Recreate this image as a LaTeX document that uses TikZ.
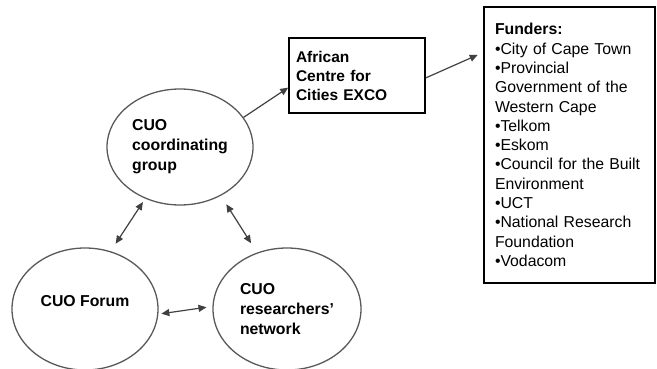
\documentclass[tikz,border=0pt]{standalone}
\usepackage{fontspec}
\setmainfont{Liberation Sans}
\usetikzlibrary{shapes.geometric,arrows.meta}

\tikzset{
  bubble/.style={ellipse,draw=black!65,line width=1.3pt,inner sep=0pt,align=left,
    font=\bfseries\fontsize{15.8}{20}\selectfont},
  panel/.style={rectangle,draw=black,line width=1.6pt,align=left},
  link/.style={draw=black!75,line width=1.2pt},
}

\begin{document}
\begin{tikzpicture}[x=1pt,y=-1pt,>={Triangle[length=8pt,width=7pt]}]
  \useasboundingbox (0,0) rectangle (657,369);
  % -=-=-=-=- CUO BUBBLES -=-=-=-=-
  \node[bubble,minimum width=146pt,minimum height=116pt] (coord) at (180,147) {CUO\\coordinating\\group};
  \node[bubble,minimum width=146pt,minimum height=122pt,text depth=16pt] (forum) at (85,309) {CUO Forum};
  \node[bubble,minimum width=148pt,minimum height=122pt] (res) at (287,309) {CUO\\researchers'\\network};

  % -=-=-=-=- BOXES -=-=-=-=-
  \node[panel,text width=122pt,inner xsep=7pt,minimum height=75pt,
    font=\bfseries\fontsize{15.5}{19}\selectfont] (exco) at (357,75.5) {African\\Centre for\\Cities EXCO};
  \node[panel,text width=149pt,inner xsep=11pt,minimum height=276pt,
    font=\fontsize{15.8}{19.3}\selectfont] (funders) at (569.5,145) {\textbf{Funders:}\\
    \textbullet City of Cape Town\\
    \textbullet Provincial\\
    Government of the\\
    Western Cape\\
    \textbullet Telkom\\
    \textbullet Eskom\\
    \textbullet Council for the Built\\
    Environment\\
    \textbullet UCT\\
    \textbullet National Research\\
    Foundation\\
    \textbullet Vodacom};

  % -=-=-=-=- LINKS -=-=-=-=-
  \draw[link,->] (coord.25) -- (exco.190);
  \draw[link,->,shorten >=6pt] (exco.358) -- (funders.133);
  \draw[link,<->,shorten <=4pt,shorten >=9pt] (coord.236) -- (forum.66);
  \draw[link,<->,shorten <=10pt,shorten >=11pt] (coord.310) -- (res.118);
  \draw[link,<->,shorten <=3pt,shorten >=6pt] (forum.356) -- (res.178);
\end{tikzpicture}
\end{document}
